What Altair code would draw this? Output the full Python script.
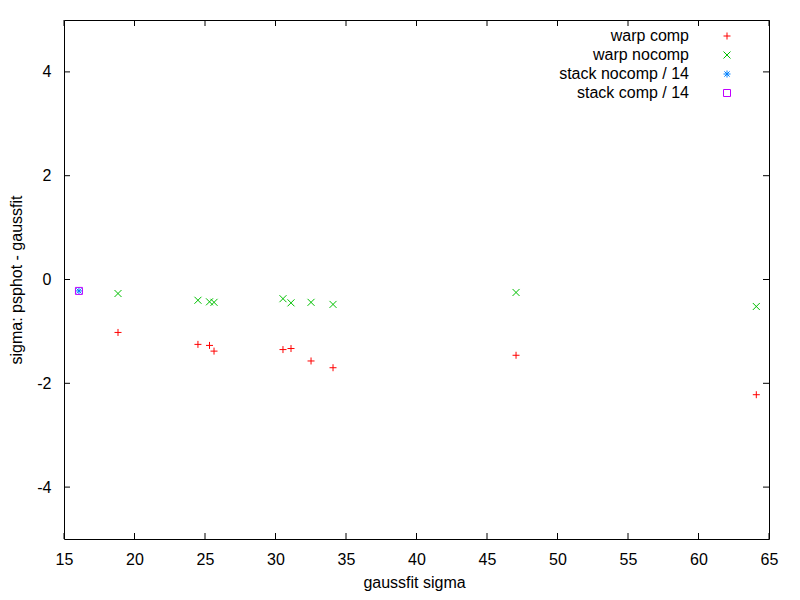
import altair as alt
import pandas as pd

# ---- data ----
series_names = ["warp comp", "warp nocomp", "stack nocomp / 14", "stack comp / 14"]
series_colors = ["#ff0000", "#00c000", "#0080ff", "#c000ff"]

warp_comp_x = [18.83, 24.50, 25.32, 25.64, 30.53, 31.10, 32.52, 34.08, 47.06, 64.10]
warp_comp_y = [-1.02, -1.25, -1.27, -1.38, -1.35, -1.33, -1.57, -1.70, -1.46, -2.22]

warp_nocomp_x = [18.83, 24.50, 25.32, 25.64, 30.53, 31.10, 32.52, 34.08, 47.06, 64.10]
warp_nocomp_y = [-0.27, -0.40, -0.43, -0.44, -0.37, -0.45, -0.44, -0.48, -0.25, -0.52]

stack_nocomp_x = [16.06]
stack_nocomp_y = [-0.22]

stack_comp_x = [16.06]
stack_comp_y = [-0.22]

x_ticks = [15, 20, 25, 30, 35, 40, 45, 50, 55, 60, 65]
y_ticks = [-4, -2, 0, 2, 4]

rows = []
for name, xs, ys in [
    (series_names[0], warp_comp_x, warp_comp_y),
    (series_names[1], warp_nocomp_x, warp_nocomp_y),
    (series_names[2], stack_nocomp_x, stack_nocomp_y),
    (series_names[3], stack_comp_x, stack_comp_y),
]:
    for xv, yv in zip(xs, ys):
        rows.append({"series": name, "sigma": xv, "diff": yv})
df = pd.DataFrame(rows)

W, H = 705, 519
FONT = "Liberation Sans"
FS = 16
TICK = 6

plus = "M-1,0H1M0,-1V1"
cross = "M-1,-1L1,1M-1,1L1,-1"
star = "M-1,0H1M0,-1V1M-0.75,-0.75L0.75,0.75M-0.75,0.75L0.75,-0.75"
square = "M-1,-1H1V1H-1Z"
series_shapes = [plus, cross, star, square]

xscale = alt.Scale(domain=[15, 65], nice=False, zero=False)
yscale = alt.Scale(domain=[-5, 5], nice=False, zero=False)

x_axis = alt.Axis(
    values=x_ticks, ticks=False, domain=False, grid=False, labelFlush=False,
    labelFont=FONT, labelFontSize=FS, labelColor="black", labelPadding=12,
    title="gaussfit sigma", titleFont=FONT, titleFontSize=FS, titleFontWeight="normal",
    titleColor="black", titleX=350, titleY=48, titleAlign="center", titleBaseline="alphabetic",
)
y_axis = alt.Axis(
    values=y_ticks, ticks=False, domain=False, grid=False, labelFlush=False,
    labelFont=FONT, labelFontSize=FS, labelColor="black", labelPadding=13,
    labelAlign="right", labelExpr="'' + datum.value",
    title="sigma: psphot - gaussfit", titleFont=FONT, titleFontSize=FS, titleFontWeight="normal",
    titleColor="black", titleX=-43, titleY=H / 2, titleAngle=270, titleAlign="center",
    titleBaseline="alphabetic",
)

legend = alt.Legend(
    title=None, orient="none", legendX=655, legendY=8, padding=0,
    labelAlign="right", labelOffset={"expr": "-46"}, symbolOffset=0,
    labelFont=FONT, labelFontSize=FS, labelColor="black", labelLimit=300,
    rowPadding=3, symbolSize=49, symbolStrokeWidth=1,
)

points = alt.Chart(df).mark_point(filled=False, size=49, strokeWidth=1, opacity=1).encode(
    x=alt.X("sigma:Q", scale=xscale, axis=x_axis),
    y=alt.Y("diff:Q", scale=yscale, axis=y_axis),
    color=alt.Color("series:N", scale=alt.Scale(domain=series_names, range=series_colors), legend=legend),
    shape=alt.Shape("series:N", scale=alt.Scale(domain=series_names, range=series_shapes), legend=legend),
)

xt = pd.DataFrame({"sigma": x_ticks})
yt = pd.DataFrame({"diff": y_ticks})

xtick_bottom = alt.Chart(xt).mark_rule(color="black", strokeWidth=1).encode(
    x=alt.X("sigma:Q", scale=xscale, axis=x_axis), y=alt.value(H), y2=alt.value(H - TICK))
xtick_top = alt.Chart(xt).mark_rule(color="black", strokeWidth=1).encode(
    x=alt.X("sigma:Q", scale=xscale, axis=x_axis), y=alt.value(0), y2=alt.value(TICK))
ytick_left = alt.Chart(yt).mark_rule(color="black", strokeWidth=1).encode(
    y=alt.Y("diff:Q", scale=yscale, axis=y_axis), x=alt.value(0), x2=alt.value(TICK))
ytick_right = alt.Chart(yt).mark_rule(color="black", strokeWidth=1).encode(
    y=alt.Y("diff:Q", scale=yscale, axis=y_axis), x=alt.value(W), x2=alt.value(W - TICK))

chart = alt.layer(points, xtick_bottom, xtick_top, ytick_left, ytick_right).properties(
    width=W, height=H,
    autosize=alt.AutoSizeParams(type="none"),
    padding={"left": 56, "top": 12, "right": 20, "bottom": 60},
    background="white",
).configure_view(stroke="black", strokeWidth=1)

chart.save("out.html", embed_options={"renderer": "svg", "actions": False})
